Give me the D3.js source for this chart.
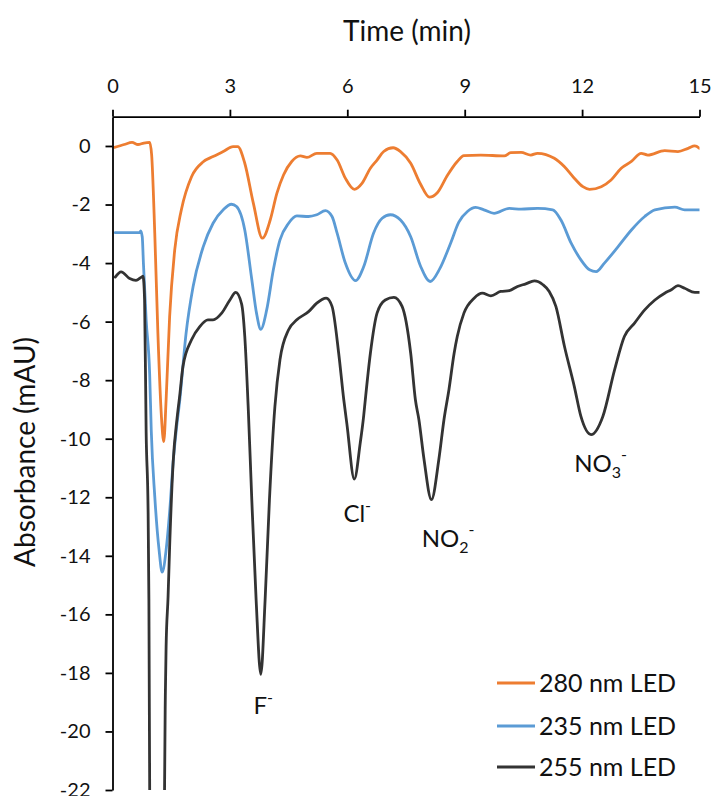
<!DOCTYPE html>
<html>
<head>
<meta charset="utf-8">
<script src="https://cdnjs.cloudflare.com/ajax/libs/d3/7.8.5/d3.min.js"></script>
<style>
  html, body { margin: 0; padding: 0; background: #fff; }
  svg { display: block; font-family: Lato, "Open Sans", sans-serif; }
</style>
</head>
<body>
<svg id="chart" width="714" height="796"></svg>
<script>
// ---- data ----
const xTicks = [0, 3, 6, 9, 12, 15];
const yTicks = [-22, -20, -18, -16, -14, -12, -10, -8, -6, -4, -2, 0];

const seriesNames = ["280 nm LED", "235 nm LED", "255 nm LED"];
const seriesColors = ["#ED7D31", "#5B9BD5", "#333333"];

const t280 = [0.05,0.3,0.5,0.65,0.8,0.95,1.0,1.08,1.16,1.25,1.31,1.37,1.46,1.59,1.76,2.02,2.32,2.57,2.83,3.08,3.2,3.38,3.6,3.83,4.03,4.2,4.37,4.58,4.8,4.97,5.22,5.56,5.74,5.95,6.18,6.38,6.59,6.76,6.93,7.17,7.36,7.62,7.87,8.1,8.3,8.56,8.81,8.98,9.41,10.01,10.18,10.44,10.69,10.86,11.29,11.55,11.8,12.02,12.19,12.49,12.74,13.0,13.26,13.51,13.68,14.11,14.45,14.71,14.88,15.0];
const v280 = [-0.05,0.05,0.12,0.05,0.1,0.12,-0.3,-2.98,-6.4,-9.24,-10.1,-8.67,-5.83,-3.55,-2.18,-1.05,-0.54,-0.36,-0.19,-0.02,-0.02,-0.59,-1.96,-3.15,-2.53,-1.62,-0.99,-0.53,-0.34,-0.39,-0.25,-0.25,-0.48,-1.1,-1.48,-1.27,-0.76,-0.48,-0.19,-0.06,-0.19,-0.59,-1.3,-1.75,-1.6,-1.0,-0.53,-0.33,-0.31,-0.34,-0.23,-0.22,-0.31,-0.25,-0.42,-0.71,-1.1,-1.39,-1.48,-1.39,-1.16,-0.76,-0.53,-0.25,-0.31,-0.16,-0.19,-0.08,0.0,-0.08];

const t235 = [0.07,0.7,0.72,0.76,0.79,0.86,0.95,0.99,1.08,1.19,1.27,1.37,1.46,1.55,1.63,1.72,1.88,2.06,2.32,2.57,2.83,3.04,3.17,3.38,3.56,3.68,3.79,3.94,4.11,4.28,4.5,4.71,5.01,5.22,5.44,5.61,5.74,5.95,6.21,6.42,6.67,6.89,7.1,7.36,7.62,7.87,8.12,8.36,8.64,8.85,9.07,9.28,9.49,9.75,10.14,10.44,10.86,11.25,11.46,11.72,11.97,12.19,12.36,12.57,12.92,13.26,13.6,13.86,14.37,14.62,15.0];
const v235 = [-2.96,-2.96,-2.9,-3.1,-4.0,-5.94,-7.8,-9.7,-11.97,-13.8,-14.56,-13.8,-12.5,-10.8,-9.7,-8.67,-6.4,-4.8,-3.44,-2.64,-2.18,-1.99,-2.07,-2.87,-4.57,-5.71,-6.26,-5.6,-4.23,-3.21,-2.64,-2.39,-2.41,-2.35,-2.21,-2.41,-2.98,-4.0,-4.6,-4.12,-2.98,-2.47,-2.35,-2.53,-3.1,-4.1,-4.63,-4.2,-3.32,-2.6,-2.24,-2.1,-2.18,-2.3,-2.13,-2.16,-2.13,-2.18,-2.53,-3.32,-3.89,-4.23,-4.29,-4.0,-3.44,-2.87,-2.41,-2.18,-2.09,-2.18,-2.18];

const t255 = [0.07,0.22,0.44,0.6,0.74,0.78,0.82,0.86,0.91,0.93,0.95,0.97,1.31,1.33,1.35,1.37,1.42,1.46,1.55,1.65,1.72,1.8,2.02,2.23,2.44,2.57,2.79,3.0,3.15,3.3,3.38,3.47,3.56,3.67,3.79,3.9,4.01,4.15,4.28,4.5,4.71,5.01,5.22,5.46,5.61,5.78,5.91,5.99,6.18,6.33,6.42,6.46,6.59,6.76,6.97,7.19,7.4,7.62,7.74,7.83,7.96,8.15,8.34,8.47,8.6,8.73,8.81,8.98,9.24,9.45,9.67,9.92,10.14,10.35,10.56,10.78,11.0,11.16,11.33,11.55,11.8,11.97,12.23,12.53,12.83,13.08,13.34,13.6,13.86,14.11,14.28,14.45,14.62,14.88,15.0];
const v255 = [-4.48,-4.3,-4.53,-4.59,-4.48,-4.45,-5.26,-9.8,-12.5,-15.5,-22,-30,-30,-22,-18.8,-17.1,-15.4,-13.7,-10.8,-9.3,-8.5,-7.53,-6.62,-6.17,-5.94,-5.94,-5.71,-5.26,-5.0,-5.4,-6.5,-9.0,-12.1,-15.5,-18.05,-15.5,-12.1,-8.9,-7.3,-6.28,-5.94,-5.66,-5.37,-5.2,-5.48,-7.08,-8.67,-9.5,-11.38,-10.15,-9.2,-8.67,-7.08,-5.71,-5.26,-5.17,-5.48,-7.08,-8.67,-9.35,-10.7,-12.08,-10.7,-9.35,-8.3,-7.08,-6.51,-5.71,-5.2,-5.03,-5.12,-4.97,-4.94,-4.8,-4.71,-4.61,-4.74,-4.97,-5.48,-6.85,-8.21,-9.24,-9.86,-9.24,-7.65,-6.51,-6.05,-5.6,-5.26,-5.03,-4.91,-4.77,-4.86,-5.0,-5.0];

// peak labels
const peakMain = ["F", "Cl", "NO", "NO"];
const peakSub = ["", "", "2", "3"];
const peakT = [3.6, 5.9, 7.9, 11.8];
const peakV = [-19.4, -12.85, -13.7, -11.15];

// ---- drawing ----
const svg = d3.select("#chart");
const x = d3.scaleLinear().domain([0, 15]).range([112.5, 699.5]);
const y = d3.scaleLinear().domain([-22, 1]).range([790, 116.7]);

svg.append("defs").append("clipPath").attr("id", "plotclip")
  .append("rect")
  .attr("x", x(0)).attr("y", y(1))
  .attr("width", x(15) - x(0)).attr("height", y(-22) - y(1));

const series = [
  { t: t280, v: v280 },
  { t: t235, v: v235 },
  { t: t255, v: v255 }
];

const line = d3.line()
  .x(d => x(d[0]))
  .y(d => y(d[1]))
  .curve(d3.curveMonotoneX);

const g = svg.append("g").attr("clip-path", "url(#plotclip)");
[0, 1, 2].forEach(i => {
  const pts = series[i].t.map((tt, k) => [tt, series[i].v[k]]);
  g.append("path")
    .attr("d", line(pts))
    .attr("fill", "none")
    .attr("stroke", seriesColors[i])
    .attr("stroke-width", 2.8)
    .attr("stroke-linejoin", "round")
    .attr("stroke-linecap", "round");
});

// axes
const fmt = d => String(d);
const xAxis = d3.axisTop(x).tickValues(xTicks).tickFormat(fmt).tickSize(7).tickSizeOuter(0).tickPadding(17);
const yAxis = d3.axisLeft(y).tickValues(yTicks).tickFormat(fmt).tickSize(7).tickSizeOuter(0).tickPadding(15);

const gx = svg.append("g").attr("transform", `translate(0,${y(1)})`).call(xAxis);
const gy = svg.append("g").attr("transform", `translate(${x(0)},0)`).call(yAxis);

[gx, gy].forEach(a => {
  a.select(".domain").attr("stroke", "#000").attr("stroke-width", 1.8);
  a.selectAll(".tick line").attr("stroke", "#000").attr("stroke-width", 1.8);
  a.selectAll(".tick text").attr("fill", "#111").style("font-family", "Lato, sans-serif").style("font-size", "20px");
});

// titles
svg.append("text")
  .attr("x", 407).attr("y", 41)
  .attr("text-anchor", "middle")
  .style("font-size", "28px").attr("fill", "#111")
  .text("Time (min)");

svg.append("text")
  .attr("transform", "translate(35,452) rotate(-90)")
  .attr("text-anchor", "middle")
  .style("font-size", "28px").attr("fill", "#111")
  .text("Absorbance (mAU)");

// peak labels
peakMain.forEach((m, i) => {
  const tx = svg.append("text")
    .attr("x", x(peakT[i])).attr("y", y(peakV[i]))
    .style("font-size", "24px").attr("fill", "#111");
  tx.append("tspan").text(m);
  if (peakSub[i]) {
    tx.append("tspan").attr("dy", 6).style("font-size", "16px").text(peakSub[i]);
    tx.append("tspan").attr("dy", -18).style("font-size", "16px").text("-");
  } else {
    tx.append("tspan").attr("dy", -11).style("font-size", "16px").text("-");
  }
});

// legend
const legendY = [683, 726, 767];
seriesNames.forEach((name, i) => {
  svg.append("line")
    .attr("x1", 497).attr("x2", 535)
    .attr("y1", legendY[i]).attr("y2", legendY[i])
    .attr("stroke", seriesColors[i]).attr("stroke-width", 2.8);
  svg.append("text")
    .attr("x", 539).attr("y", legendY[i]).attr("dy", "0.36em")
    .style("font-size", "25px").attr("fill", "#111")
    .text(name);
});
</script>
</body>
</html>
